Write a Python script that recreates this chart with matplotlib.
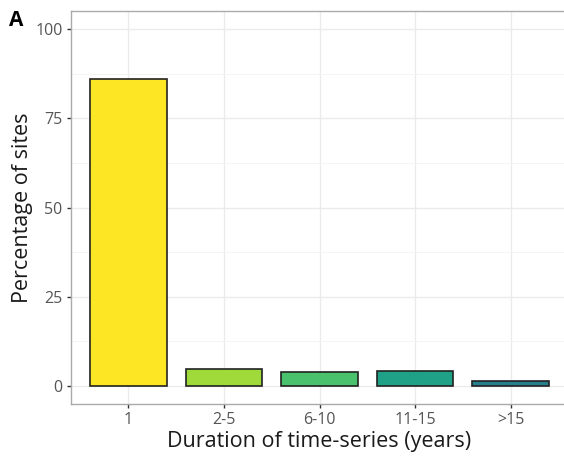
import matplotlib
matplotlib.use('Agg')
import matplotlib.pyplot as plt

plt.rcParams['font.family'] = ['Open Sans', 'DejaVu Sans']

categories = ['1', '2-5', '6-10', '11-15', '>15']
percent = [86.0, 4.7, 4.0, 4.3, 1.3]
colours = ['#FDE725', '#9FDA3A', '#4AC16D', '#1FA187', '#277F8E']


def main():
    fig = plt.figure(figsize=(5.64, 4.57), dpi=100)
    # panel runs past the right edge, like the cropped original
    ax = fig.add_axes([71 / 564, 53 / 457, 497 / 564, 393 / 457])

    x = list(range(1, len(categories) + 1))
    ax.bar(x, percent, width=0.8, color=colours, edgecolor='#222222',
           linewidth=1.2, zorder=3)

    ax.set_xlim(0.4, 5.6)
    ax.set_ylim(-5, 105)
    ax.set_xticks(x)
    ax.set_xticklabels(categories)
    ax.set_yticks([0, 25, 50, 75, 100])
    ax.set_yticks([12.5, 37.5, 62.5, 87.5], minor=True)
    ax.set_xticks([], minor=True)

    ax.grid(which='major', color='#EBEBEB', linewidth=1.0, zorder=0)
    ax.grid(which='minor', axis='y', color='#F3F3F3', linewidth=0.6, zorder=0)

    for side in ['left', 'bottom', 'top', 'right']:
        ax.spines[side].set_color('#AAAAAA')
        ax.spines[side].set_linewidth(1.0)

    ax.tick_params(which='major', length=3, width=1, color='#333333',
                   labelcolor='#555555', labelsize=11.5, pad=3)
    ax.tick_params(which='minor', length=0)

    ax.set_xlabel('Duration of time-series (years)', fontsize=15.5, labelpad=2,
                  color='#1A1A1A')
    ax.set_ylabel('Percentage of sites', fontsize=15.5, labelpad=2,
                  color='#1A1A1A')

    fig.text(9 / 564, 1 - 20 / 457, 'A', fontsize=15, fontweight='bold',
             va='center', ha='left')

    fig.savefig('out.png', dpi=100)


if __name__ == '__main__':
    main()
